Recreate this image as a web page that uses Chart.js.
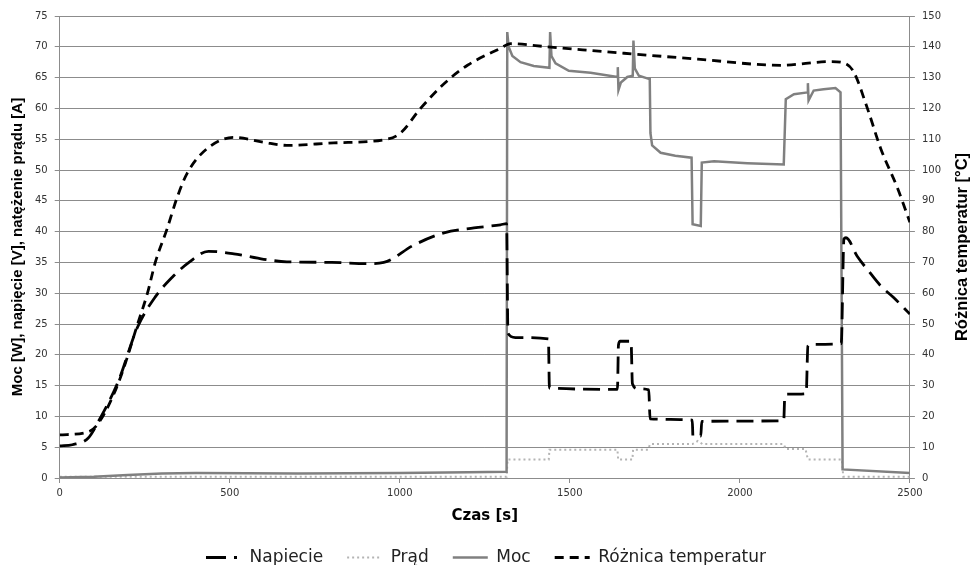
<!DOCTYPE html>
<html lang="pl">
<head>
<meta charset="utf-8">
<title>Napięcie, prąd, moc i różnica temperatur</title>
<script src="https://cdn.jsdelivr.net/npm/chart.js@4.4.1/dist/chart.umd.min.js"></script>
<style>
    html, body { margin: 0; padding: 0; background: #fff; }
    #wrap { width: 972px; height: 565px; }
</style>
</head>
<body>
<div id="wrap"><canvas id="wykres"></canvas></div>
<script>
// Napięcie [V] w czasie [s]
const napiecieT = [0, 37, 84, 115, 173, 228, 281, 331, 380, 437, 512, 600, 668, 800, 904, 953, 1041, 1130, 1218, 1296, 1314,
    1318, 1340, 1437, 1440, 1640, 1643, 1648, 1680, 1684, 1700, 1732, 1736, 1860, 1862, 1885, 1888, 2129, 2132, 2140, 2195,
    2200, 2210, 2298, 2306, 2312, 2345, 2380, 2414, 2452, 2500];
const napiecieV = [5.2, 5.4, 6.5, 9.3, 15.8, 24.4, 29.4, 32.6, 35.0, 36.8, 36.4, 35.5, 35.1, 35.0, 34.8, 35.0, 37.8, 39.8, 40.6, 41.1, 41.3,
    23.5, 22.8, 22.6, 14.6, 14.4, 21.6, 22.2, 22.2, 15.3, 14.5, 14.3, 9.6, 9.4, 6.8, 6.8, 9.2, 9.3, 13.2, 13.6, 13.7,
    21.4, 21.7, 21.8, 38.8, 39.0, 36.0, 33.5, 31.2, 29.3, 26.6];

// Prąd [A]
const pradT = [0, 1314, 1317, 1438, 1440, 1640, 1642, 1684, 1686, 1730, 1736, 1860, 1876, 1890, 2129, 2135, 2193, 2200, 2300, 2304, 2500];
const pradA = [0.2, 0.2, 3.0, 3.0, 4.6, 4.6, 3.0, 3.0, 4.6, 4.6, 5.5, 5.5, 6.0, 5.5, 5.5, 4.7, 4.7, 3.0, 3.0, 0.2, 0.2];

// Moc [W]
const mocT = [0, 100, 200, 300, 400, 700, 1000, 1200, 1314, 1316, 1320, 1331, 1355, 1394, 1440, 1442, 1446, 1458, 1497, 1561,
    1640, 1641, 1643, 1650, 1669, 1685, 1687, 1691, 1703, 1732, 1735, 1737, 1742, 1767, 1810, 1858, 1861, 1885, 1888, 1924,
    2022, 2129, 2135, 2159, 2199, 2200, 2202, 2217, 2246, 2281, 2296, 2302, 2500];
const mocW = [0.1, 0.2, 0.5, 0.75, 0.8, 0.75, 0.8, 0.95, 1.0, 72.4, 70.0, 68.5, 67.5, 66.9, 66.6, 72.4, 68.5, 67.3, 66.1, 65.8,
    65.1, 66.7, 63.0, 64.2, 65.1, 65.3, 71.0, 66.5, 65.3, 64.8, 64.8, 56.0, 54.0, 52.8, 52.3, 52.0, 41.2, 40.9, 51.2, 51.4,
    51.1, 50.9, 61.5, 62.3, 62.6, 64.1, 61.3, 62.9, 63.1, 63.3, 62.6, 1.4, 0.8];

// Różnica temperatur [°C] (prawa oś)
const tempT = [0, 84, 115, 173, 232, 258, 281, 316, 345, 375, 434, 512, 600, 668, 806, 963, 1002, 1061, 1130, 1199, 1296,
    1326, 1434, 1649, 1876, 2120, 2267, 2305, 2334, 2375, 2414, 2464, 2500];
const tempC = [14.0, 15.0, 18.0, 31.0, 51.0, 60.0, 70.0, 81.0, 91.0, 99.0, 107.0, 110.6, 109.0, 108.0, 108.8, 110.0, 112.0, 120.0, 128.0, 134.0, 139.5,
    141.0, 140.0, 138.0, 136.0, 134.0, 135.2, 134.8, 132.0, 120.0, 107.0, 94.0, 83.0];

const czasTicks = [0, 500, 1000, 1500, 2000, 2500];

function punkty(xs, ys) {
    return xs.map((x, i) => ({ x: x, y: ys[i] }));
}

// tytuł prawej osi czytany od dołu do góry
const prawyTytul = {
    id: 'prawyTytul',
    afterDraw(chart) {
        const ctx = chart.ctx;
        const area = chart.chartArea;
        ctx.save();
        ctx.translate(962, (area.top + area.bottom) / 2);
        ctx.rotate(-Math.PI / 2);
        ctx.font = 'bold 16.5px "Liberation Sans"';
        ctx.fillStyle = '#000';
        ctx.textAlign = 'center';
        ctx.textBaseline = 'middle';
        ctx.fillText('Różnica temperatur [°C]', 0, 0);
        ctx.restore();
    }
};

document.addEventListener('DOMContentLoaded', () => {
    const szary = '#8c8c8c';
    const ctx = document.getElementById('wykres').getContext('2d');

    new Chart(ctx, {
        type: 'line',
        data: {
            datasets: [
                {
                    label: 'Napiecie',
                    data: punkty(napiecieT, napiecieV),
                    borderColor: '#000',
                    borderWidth: 2.8,
                    borderDash: [17, 8],
                    cubicInterpolationMode: 'monotone',
                    yAxisID: 'y',
                    order: 2
                },
                {
                    label: 'Prąd',
                    data: punkty(pradT, pradA),
                    borderColor: '#b4b4b4',
                    borderWidth: 2,
                    borderDash: [2, 3],
                    tension: 0,
                    yAxisID: 'y',
                    order: 4
                },
                {
                    label: 'Moc',
                    data: punkty(mocT, mocW),
                    borderColor: '#808080',
                    borderWidth: 2.5,
                    tension: 0,
                    yAxisID: 'y',
                    order: 3
                },
                {
                    label: 'Różnica temperatur',
                    data: punkty(tempT, tempC),
                    borderColor: '#000',
                    borderWidth: 2.8,
                    borderDash: [9, 6],
                    cubicInterpolationMode: 'monotone',
                    yAxisID: 'y2',
                    order: 1
                }
            ]
        },
        options: {
            responsive: true,
            maintainAspectRatio: false,
            animation: false,
            elements: {
                point: { radius: 0, hoverRadius: 0 },
                line: { fill: false }
            },
            layout: { padding: { top: 16, left: 0, right: 0, bottom: -11 } },
            scales: {
                x: {
                    type: 'linear',
                    min: 0,
                    max: 2500,
                    afterBuildTicks: axis => { axis.ticks = czasTicks.map(v => ({ value: v })); },
                    grid: { drawOnChartArea: false, drawTicks: true, tickLength: 5, color: szary },
                    border: { display: true, color: szary },
                    ticks: {
                        color: '#333',
                        font: { family: 'DejaVu Sans', size: 10 },
                        padding: 4,
                        maxRotation: 0,
                        callback: v => String(v)
                    },
                    title: {
                        display: true,
                        text: 'Czas [s]',
                        color: '#000',
                        font: { family: 'DejaVu Sans', size: 15, weight: 'bold' },
                        padding: { top: 4, bottom: 0 }
                    }
                },
                y: {
                    position: 'left',
                    min: 0,
                    max: 75,
                    ticks: { stepSize: 5, color: '#333', font: { family: 'DejaVu Sans', size: 10 }, padding: 7 },
                    grid: { color: szary, tickLength: 5 },
                    border: { display: true, color: szary },
                    title: {
                        display: true,
                        text: 'Moc [W], napięcie [V], natężenie prądu [A]',
                        color: '#000',
                        font: { family: 'Liberation Sans', size: 15, weight: 'bold' },
                        padding: { top: 9, bottom: 1 }
                    }
                },
                y2: {
                    position: 'right',
                    min: 0,
                    max: 150,
                    ticks: { stepSize: 10, color: '#333', font: { family: 'DejaVu Sans', size: 10 }, padding: 7 },
                    grid: { drawOnChartArea: false, color: szary, tickLength: 5 },
                    border: { display: true, color: szary },
                    // miejsce na tytuł prawej osi
                    afterFit: axis => { axis.width += 24; }
                }
            },
            plugins: {
                tooltip: { enabled: false },
                legend: {
                    position: 'bottom',
                    labels: {
                        usePointStyle: true,
                        pointStyleWidth: 35,
                        boxHeight: 17,
                        padding: 24,
                        color: '#222',
                        font: { family: 'DejaVu Sans', size: 17 },
                        sort: (a, b) => a.datasetIndex - b.datasetIndex,
                        generateLabels: chart => {
                            const items = Chart.defaults.plugins.legend.labels.generateLabels(chart);
                            items.forEach(it => {
                                const ds = chart.data.datasets[it.datasetIndex];
                                it.pointStyle = 'line';
                                it.strokeStyle = ds.borderColor;
                                it.fillStyle = ds.borderColor;
                                it.lineWidth = ds.borderWidth;
                                it.lineDash = ds.borderDash || [];
                                // kreska z kropką przy napięciu
                                if (it.datasetIndex === 0) it.lineDash = [20, 8, 3, 20];
                            });
                            return items;
                        }
                    }
                }
            }
        },
        plugins: [prawyTytul]
    });
});
</script>
</body>
</html>
